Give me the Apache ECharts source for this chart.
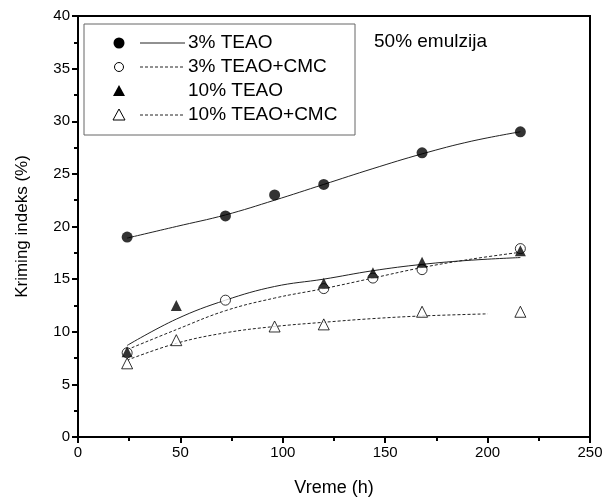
<!DOCTYPE html>
<html>
<head>
<meta charset="utf-8">
<script src="https://cdn.jsdelivr.net/npm/echarts@6/dist/echarts.min.js"></script>
<style>
  html, body { margin: 0; padding: 0; background: #fff; }
  #chart { width: 614px; height: 498px; }
</style>
</head>
<body>
<div id="chart"></div>
<script>
// Measured time points (h) and creaming index (%)
const hours3 = [24, 72, 96, 120, 168, 216];
const teao3 = [19.0, 21.0, 23.0, 24.0, 27.0, 29.0];

const hours3cmc = [24, 72, 120, 144, 168, 216];
const teao3cmc = [8.0, 13.0, 14.1, 15.1, 15.9, 17.9];

const hours10 = [24, 48, 120, 144, 168, 216];
const teao10 = [8.1, 12.5, 14.6, 15.6, 16.6, 17.7];

const hours10cmc = [24, 48, 96, 120, 168, 216];
const teao10cmc = [7.0, 9.2, 10.5, 10.7, 11.9, 11.9];

// Fitted trend curves
const fitHours = [24, 48, 72, 96, 120, 144, 168, 192, 216];
const fit3 = [18.9, 20.0, 21.1, 22.5, 24.0, 25.5, 26.9, 28.1, 29.0];
const fit3cmc = [8.3, 10.2, 12.0, 13.2, 14.1, 15.1, 16.1, 16.9, 17.55];
const fit10 = [8.7, 11.2, 13.0, 14.3, 15.0, 15.8, 16.4, 16.8, 17.05];
const fit10cmcHours = [24, 48, 72, 96, 120, 144, 168, 200];
const fit10cmc = [7.3, 8.9, 9.9, 10.5, 10.9, 11.25, 11.5, 11.7];

// Axis ticks
const xTicks = [0, 50, 100, 150, 200, 250];
const yTicks = [0, 5, 10, 15, 20, 25, 30, 35, 40];

const legendLabels = ['3% TEAO', '3% TEAO+CMC', '10% TEAO', '10% TEAO+CMC'];
const annotation = '50% emulzija';
const xName = 'Vreme (h)';
const yName = 'Kriming indeks (%)';

const zip = (xs, ys) => xs.map((x, i) => [x, ys[i]]);
const FONT = 'Liberation Sans, Arial, sans-serif';

const chart = echarts.init(document.getElementById('chart'), null, { renderer: 'canvas' });

function fitLine(data, dashed) {
  return {
    type: 'line', data, smooth: 0.4, showSymbol: false, silent: true,
    lineStyle: { color: '#222', width: 1, type: dashed ? [3, 2] : 'solid' },
    z: 2
  };
}
function points(data, symbol, filled, size) {
  return {
    type: 'scatter', data, symbol, symbolSize: size, silent: true,
    itemStyle: filled ? { color: '#000' } : { color: '#fff', borderColor: '#000', borderWidth: 1 },
    z: filled ? 5 : 4
  };
}

// Legend drawn as graphics: marker, line sample, label
const legendX = 84, legendY = 24, legendW = 271, legendH = 111;
const rowY = [43, 67, 91, 115];
const legendGraphics = [{
  type: 'rect', shape: { x: legendX, y: legendY, width: legendW, height: legendH },
  style: { fill: '#fff', stroke: '#666', lineWidth: 1 }, z: 10
}];
const markerKinds = [
  { sym: 'circle', filled: true, line: 'solid' },
  { sym: 'circle', filled: false, line: 'dashed' },
  { sym: 'triangle', filled: true, line: null },
  { sym: 'triangle', filled: false, line: 'dashed' }
];
markerKinds.forEach((k, i) => {
  const y = rowY[i];
  const style = k.filled ? { fill: '#000' } : { fill: '#fff', stroke: '#000', lineWidth: 1 };
  if (k.sym === 'circle') {
    legendGraphics.push({ type: 'circle', shape: { cx: 119, cy: y, r: k.filled ? 5.5 : 4.5 }, style, z: 11 });
  } else {
    legendGraphics.push({ type: 'polygon', shape: { points: [[119, y - 6], [113, y + 5], [125, y + 5]] }, style, z: 11 });
  }
  if (k.line) {
    legendGraphics.push({
      type: 'line', shape: { x1: 140, y1: y, x2: 185, y2: y },
      style: { stroke: '#222', lineWidth: 1, lineDash: k.line === 'dashed' ? [3, 2] : null }, z: 11
    });
  }
  legendGraphics.push({
    type: 'text', x: 188, y: y,
    style: { text: legendLabels[i], font: '19px ' + FONT, fill: '#000', textVerticalAlign: 'middle' }, z: 11
  });
});
legendGraphics.push({
  type: 'text', x: 374, y: 42,
  style: { text: annotation, font: '19px ' + FONT, fill: '#000', textVerticalAlign: 'middle' }, z: 11
});

chart.setOption({
  backgroundColor: '#fff',
  animation: false,
  textStyle: { fontFamily: FONT },
  grid: {
    left: 78, right: 24, top: 16, bottom: 61,
    containLabel: false, outerBoundsMode: 'none',
    show: true, borderColor: '#000', borderWidth: 2
  },
  xAxis: {
    type: 'value', min: xTicks[0], max: xTicks[xTicks.length - 1], interval: 50,
    name: xName, nameLocation: 'middle', nameGap: 42,
    nameTextStyle: { fontSize: 18, color: '#000', fontFamily: FONT },
    axisLine: { lineStyle: { color: '#000', width: 2 } },
    axisTick: { show: true, inside: false, length: 6, lineStyle: { color: '#000', width: 2 } },
    minorTick: { show: true, splitNumber: 2, length: 4, lineStyle: { color: '#000', width: 2 } },
    axisLabel: { fontSize: 15, color: '#000', margin: 8, fontFamily: FONT },
    splitLine: { show: false }
  },
  yAxis: {
    type: 'value', min: yTicks[0], max: yTicks[yTicks.length - 1], interval: 5,
    name: yName, nameLocation: 'middle', nameGap: 47,
    nameTextStyle: { fontSize: 17, color: '#000', fontFamily: FONT },
    axisLine: { lineStyle: { color: '#000', width: 2 } },
    axisTick: { show: true, inside: false, length: 6, lineStyle: { color: '#000', width: 2 } },
    minorTick: { show: true, splitNumber: 2, length: 4, lineStyle: { color: '#000', width: 2 } },
    axisLabel: { fontSize: 15, color: '#000', margin: 8, fontFamily: FONT },
    splitLine: { show: false }
  },
  series: [
    fitLine(zip(fitHours, fit3), false),
    fitLine(zip(fitHours, fit3cmc), true),
    fitLine(zip(fitHours, fit10), false),
    fitLine(zip(fit10cmcHours, fit10cmc), true),
    points(zip(hours3, teao3), 'circle', true, 11),
    points(zip(hours3cmc, teao3cmc), 'circle', false, 10),
    points(zip(hours10cmc, teao10cmc), 'triangle', false, 11),
    points(zip(hours10, teao10), 'triangle', true, 11)
  ],
  graphic: legendGraphics
});
</script>
</body>
</html>
